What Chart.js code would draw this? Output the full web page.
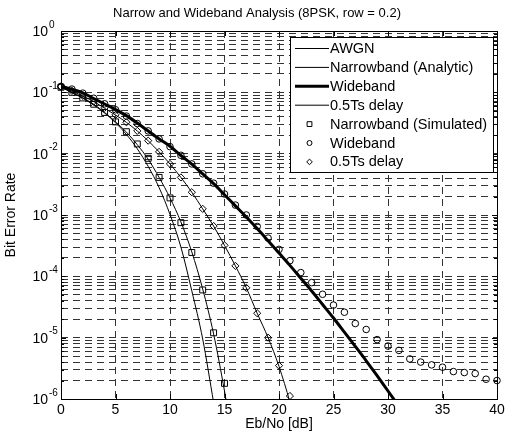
<!DOCTYPE html>
<html>
<head>
<meta charset="utf-8">
<script src="https://cdn.jsdelivr.net/npm/chart.js@4.4.0/dist/chart.umd.min.js"></script>
<style>
html, body { margin: 0; padding: 0; background: #fff; }
canvas { display: block; }
</style>
</head>
<body>
<canvas id="grafica-ber" width="509" height="437"></canvas>
<script>
const titulo = 'Narrow and Wideband Analysis (8PSK, row = 0.2)'
const xTicks = [0, 5, 10, 15, 20, 25, 30, 35, 40]
const yDecadas = [0, -1, -2, -3, -4, -5, -6]

// curvas analiticas
const snrAwgn = [0, 1, 2, 3, 4, 5, 6, 7, 8, 9, 10, 11, 12, 13, 14]
const berAwgn = [0.121, 0.099, 0.080, 0.062, 0.046, 0.032, 0.0206, 0.0120, 0.0062, 0.0028, 0.00102, 0.00030, 0.000058, 0.0000095, 0.00000088]

const snrNarrow = [0, 1, 2, 3, 4, 5, 6, 7, 8, 9, 10, 11, 12, 13, 14, 15, 16]
const berNarrow = [0.122, 0.101, 0.082, 0.064, 0.047, 0.033, 0.0225, 0.0140, 0.0081, 0.0041, 0.0019, 0.00077, 0.00025, 0.000062, 0.0000115, 0.00000135, 0.00000012]

const snrWide = [0, 1, 2, 3, 4, 5, 6, 7, 8, 9, 10, 11, 12, 13, 14, 15, 16, 17, 18, 19, 20, 21, 22, 23, 24, 25, 26, 27, 28, 29, 30, 31]
const berWide = [0.126, 0.112, 0.0977, 0.0794, 0.0646, 0.0525, 0.0417, 0.0316, 0.0234, 0.0174, 0.0132, 0.00933, 0.00676, 0.00468, 0.00324, 0.00214, 0.00141, 0.00093, 0.00060, 0.00038, 0.00024, 0.000151, 0.000093, 0.0000575, 0.0000347, 0.0000209, 0.0000123, 0.0000072, 0.0000042, 0.0000024, 0.00000135, 0.00000076]

const snrDelay = [0, 1, 2, 3, 4, 5, 6, 7, 8, 9, 10, 11, 12, 13, 14, 15, 16, 17, 18, 19, 20, 21, 22]
const berDelay = [0.125, 0.105, 0.087, 0.0708, 0.055, 0.0427, 0.0324, 0.0234, 0.0162, 0.0107, 0.0068, 0.0041, 0.00235, 0.00126, 0.00066, 0.00032, 0.000148, 0.000065, 0.000025, 0.0000100, 0.0000034, 0.00000089, 0.00000018]

// puntos simulados
const snrNarrowSim = [0, 1, 2, 3, 4, 5, 6, 7, 8, 9, 10, 11, 12, 13, 14, 15]
const berNarrowSim = [0.121, 0.100, 0.081, 0.064, 0.047, 0.033, 0.0228, 0.0144, 0.0084, 0.0041, 0.0019, 0.00075, 0.000245, 0.000060, 0.000012, 0.0000018]

const snrWideSim = [0, 1, 2, 3, 4, 5, 6, 7, 8, 9, 10, 11, 12, 13, 14, 15, 16, 17, 18, 19, 20, 21, 22, 23, 24, 25, 26, 27, 28, 29, 30, 31, 32, 33, 34, 35, 36, 37, 38, 39, 40]
const berWideSim = [0.125, 0.113, 0.097, 0.080, 0.065, 0.052, 0.041, 0.031, 0.0235, 0.0174, 0.0130, 0.0094, 0.0068, 0.0047, 0.0033, 0.0022, 0.00145, 0.00100, 0.00065, 0.00042, 0.000275, 0.00018, 0.000115, 0.000079, 0.000051, 0.000034, 0.000026, 0.000017, 0.0000136, 0.0000093, 0.0000073, 0.0000062, 0.0000045, 0.0000040, 0.0000036, 0.0000033, 0.0000028, 0.0000027, 0.0000026, 0.0000021, 0.0000020]

const snrDelaySim = [0, 1, 2, 3, 4, 5, 6, 7, 8, 9, 10, 11, 12, 13, 14, 15, 16, 17, 18, 19, 20, 21]
const berDelaySim = [0.124, 0.106, 0.088, 0.071, 0.056, 0.043, 0.0325, 0.0235, 0.0163, 0.0107, 0.0068, 0.0041, 0.00235, 0.00126, 0.00066, 0.00032, 0.000148, 0.000065, 0.000025, 0.0000100, 0.0000035, 0.00000112]

const nombres = ['AWGN', 'Narrowband (Analytic)', 'Wideband', '0.5Ts delay', 'Narrowband (Simulated)', 'Wideband', '0.5Ts delay']

const fuente = 'Liberation Sans, Arial, Helvetica, sans-serif'
Chart.defaults.font.family = fuente
Chart.defaults.font.size = 14
Chart.defaults.color = '#000'

function puntos(xs, ys) {
    return xs.map((x, i) => ({ x: x, y: ys[i] }))
}

// ticks del eje y: 1..9 x 10^k
const yTicks = []
for (let k = -6; k < 0; k++) {
    for (let m = 1; m <= 9; m++) yTicks.push(m * Math.pow(10, k))
}
yTicks.push(1)

function linea(datos, ancho) {
    return {
        data: datos,
        borderColor: '#000',
        borderWidth: ancho,
        pointRadius: 0,
        fill: false,
        cubicInterpolationMode: 'monotone'
    }
}

function marcas(datos, estilo, radio) {
    return {
        data: datos,
        showLine: false,
        borderColor: '#000',
        pointStyle: estilo,
        pointRadius: radio,
        pointBorderWidth: 1,
        pointBorderColor: '#000',
        pointBackgroundColor: 'rgba(0,0,0,0)',
        clip: false
    }
}

const marcos = {
    id: 'marcos',
    afterDraw(chart) {
        const ctx = chart.ctx
        const a = chart.chartArea
        const ys = chart.scales.y
        const xs = chart.scales.x
        ctx.save()

        // ticks interiores
        ctx.strokeStyle = '#000'
        ctx.lineWidth = 1
        ctx.beginPath()
        xTicks.forEach(v => {
            const px = Math.round(xs.getPixelForValue(v)) + 0.5
            ctx.moveTo(px, a.bottom); ctx.lineTo(px, a.bottom - 5)
            ctx.moveTo(px, a.top); ctx.lineTo(px, a.top + 5)
        })
        yTicks.forEach(v => {
            const py = Math.round(ys.getPixelForValue(v)) + 0.5
            const largo = Math.abs(Math.log10(v) - Math.round(Math.log10(v))) < 1e-9 ? 5 : 3
            ctx.moveTo(a.left, py); ctx.lineTo(a.left + largo, py)
            ctx.moveTo(a.right, py); ctx.lineTo(a.right - largo, py)
        })
        ctx.stroke()

        // caja de ejes
        ctx.strokeRect(Math.round(a.left) + 0.5, Math.round(a.top) + 0.5, Math.round(a.right - a.left), Math.round(a.bottom - a.top))

        // etiquetas 10^k
        ctx.fillStyle = '#000'
        yDecadas.forEach(k => {
            const py = ys.getPixelForValue(Math.pow(10, k))
            ctx.font = '14px ' + fuente
            ctx.textAlign = 'right'
            ctx.textBaseline = 'middle'
            ctx.fillText('10', 48, py + 1)
            ctx.font = '10px ' + fuente
            ctx.textAlign = 'left'
            ctx.fillText(String(k), 49, py - 6)
        })

        // titulo
        ctx.font = '13px ' + fuente
        ctx.textAlign = 'center'
        ctx.textBaseline = 'middle'
        ctx.fillText(titulo, 257, 13)

        // leyenda
        const lx = 290, ly = 37, lw = 203, lh = 135
        ctx.fillStyle = '#fff'
        ctx.fillRect(lx, ly, lw, lh)
        ctx.strokeStyle = '#000'
        ctx.strokeRect(lx + 0.5, ly + 0.5, lw, lh)
        const estilos = chart.data.datasets
        nombres.forEach((nombre, i) => {
            const yy = ly + 11.5 + i * 18.9
            const ds = estilos[i]
            ctx.strokeStyle = '#000'
            if (i < 4) {
                ctx.lineWidth = ds.borderWidth
                ctx.beginPath()
                ctx.moveTo(lx + 5, yy); ctx.lineTo(lx + 39, yy)
                ctx.stroke()
            } else {
                ctx.lineWidth = 1
                ctx.fillStyle = 'rgba(0,0,0,0)'
                Chart.helpers.drawPoint(ctx, { pointStyle: ds.pointStyle, radius: ds.pointRadius - 0.8, rotation: 0, borderWidth: 1 }, lx + 19.5, yy)
            }
            ctx.fillStyle = '#000'
            ctx.font = '14.5px ' + fuente
            ctx.textAlign = 'left'
            ctx.textBaseline = 'middle'
            ctx.fillText(nombre, lx + 40, yy + 0.5)
        })
        ctx.restore()
    }
}

new Chart(document.getElementById('grafica-ber'), {
    type: 'line',
    data: {
        datasets: [
            linea(puntos(snrAwgn, berAwgn), 1),
            linea(puntos(snrNarrow, berNarrow), 1),
            linea(puntos(snrWide, berWide), 3),
            linea(puntos(snrDelay, berDelay), 1),
            marcas(puntos(snrNarrowSim, berNarrowSim), 'rect', 4.2),
            marcas(puntos(snrWideSim, berWideSim), 'circle', 3.3),
            marcas(puntos(snrDelaySim, berDelaySim), 'rectRot', 3.6)
        ]
    },
    options: {
        responsive: false,
        animation: false,
        devicePixelRatio: 1,
        layout: { padding: { left: 0, right: 12, top: 31, bottom: 0 } },
        plugins: {
            legend: { display: false },
            tooltip: { enabled: false }
        },
        scales: {
            x: {
                type: 'linear',
                min: 0,
                max: 40,
                ticks: { stepSize: 5, padding: 3, color: '#000' },
                grid: { color: '#333', lineWidth: 1, drawTicks: false },
                border: { display: false, dash: [7, 5] },
                title: { display: true, text: 'Eb/No [dB]', padding: { top: 0, bottom: 4 } },
                afterFit(scale) { scale.height = 38 }
            },
            y: {
                type: 'logarithmic',
                min: 0.000001,
                max: 1,
                ticks: { display: false },
                grid: { color: '#333', lineWidth: 1, drawTicks: false },
                border: { display: false, dash: [7, 5] },
                title: { display: true, text: 'Bit Error Rate', padding: { top: 3, bottom: 0 } },
                afterBuildTicks(scale) { scale.ticks = yTicks.map(v => ({ value: v })) },
                afterFit(scale) { scale.width = 61 }
            }
        }
    },
    plugins: [marcos]
})
</script>
</body>
</html>
